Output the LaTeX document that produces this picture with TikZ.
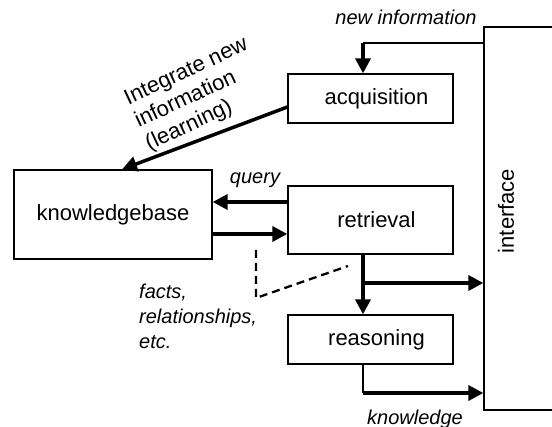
\documentclass[tikz,border=0pt]{standalone}
\usepackage{fontspec}
\setmainfont{Liberation Sans}
\usetikzlibrary{arrows.meta,positioning}
\tikzset{
  box-node/.style={
    draw=black,
    line width=1.3pt,
    inner sep=0pt,
    font=\fontsize{22}{25}\selectfont
  },
  label-italic/.style={
    inner sep=0pt,
    font=\fontsize{20}{25}\selectfont\itshape
  },
  line-thin/.style={line width=1.3pt},
  line-thick/.style={line width=3.5pt},
  arrow-thick/.style={
    line-thick,
    -{Triangle[length=15pt,width=15pt]}
  },
  line-dash/.style={line width=2.3pt, dash pattern=on 8pt off 5pt}
}
\newcommand{\boxtext}[1]{\hspace*{12pt}#1}

\begin{document}
\begin{tikzpicture}[x=1pt,y=-1pt]
  \useasboundingbox (0,0) rectangle (552,427);
  % boxes
  \node[box-node, minimum width=165pt, minimum height=49pt] (acq) at (370.5,98.5) {\boxtext{acquisition}};
  \node[box-node, minimum width=165pt, minimum height=68pt] (retr) at (370.5,220) {\boxtext{retrieval}};
  \node[box-node, minimum width=165pt, minimum height=49pt] (reas) at (370.5,339.5) {\boxtext{reasoning}};
  \node[box-node, minimum width=198pt, minimum height=89pt] (kb) at (113,214.5) {knowledgebase};
  % interface runs off the right edge
  \node[box-node, minimum width=80pt, minimum height=383pt] (iface) at (524,218.5) {};
  \node[box-node, draw=none, rotate=90] (iface-text) at (506,211) {interface};
  % junction points
  \coordinate (new-join) at (363,43);
  \coordinate (retr-out) at ([xshift=-7.5pt]retr.south);
  \coordinate (out-join) at (363,283);
  \coordinate (reas-out) at ([xshift=-7.5pt]reas.south);
  \coordinate (know-join) at (363,393);
  \coordinate (dash-a) at (256,250);
  \coordinate (dash-b) at (256,298);
  \coordinate (dash-c) at (348,266);
  % connectors
  \draw[line-thin] (iface.west |- new-join) -- (new-join);
  \draw[arrow-thick] (new-join) -- (new-join |- acq.north);
  \draw[arrow-thick] ([yshift=-8.5pt]acq.west) -- ([xshift=9pt]kb.north);
  \draw[arrow-thick] ([yshift=18pt]retr.west) -- ([yshift=18pt]retr.west -| kb.east);
  \draw[arrow-thick] ([yshift=-14pt]retr.west -| kb.east) -- ([yshift=-14pt]retr.west);
  \draw[arrow-thick] (retr-out) -- (retr-out |- reas.north);
  \draw[arrow-thick] (out-join) -- (out-join -| iface.west);
  \draw[line-thin] (reas-out) -- (know-join);
  \draw[arrow-thick] (know-join) -- (know-join -| iface.west);
  \draw[line-dash] (dash-a) -- (dash-b) -- (dash-c);
  % labels
  \node[label-italic] (new-label) at (406,17) {new information};
  \node[label-italic] (query-label) at (255,180.5) {query};
  \node[label-italic] (know-label) at (415,419) {knowledge};
  \node[label-italic, align=left, anchor=north west] (facts-label) at (139,284) {facts,\\relationships,\\etc.};
  \node[inner sep=0pt, align=left, rotate=25, font=\fontsize{22}{25}\selectfont] (learn-label) at (197,95) {Integrate new\\information\\(learning)};
\end{tikzpicture}
\end{document}
